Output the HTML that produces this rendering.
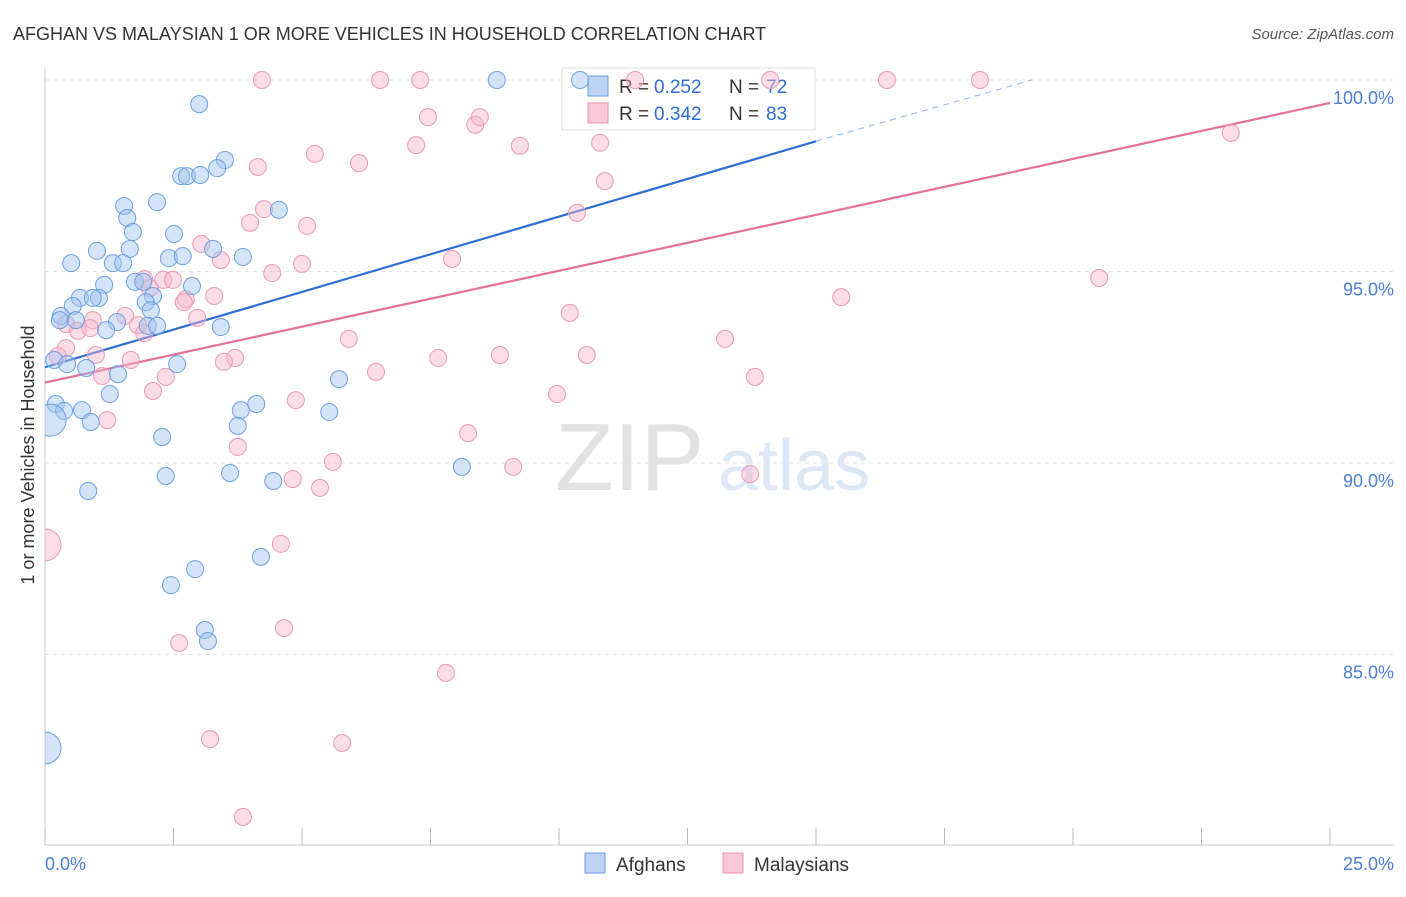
<!DOCTYPE html>
<html><head><meta charset="utf-8"><style>
body{margin:0;background:#fff;font-family:"Liberation Sans",sans-serif;}
svg text{font-family:"Liberation Sans",sans-serif;}
</style></head><body>
<svg id="chart" width="1406" height="892">
<defs><clipPath id="plotclip"><rect x="45" y="60" width="1360" height="785"/></clipPath></defs>
<text x="13" y="40" font-size="18" fill="#333">AFGHAN VS MALAYSIAN 1 OR MORE VEHICLES IN HOUSEHOLD CORRELATION CHART</text>
<text x="1394" y="39" font-size="15" fill="#555" text-anchor="end" font-style="italic">Source: ZipAtlas.com</text>
<text x="555" y="490" font-size="96" fill="#e2e2e2" font-family="Liberation Serif">ZIP</text>
<text x="718" y="490" font-size="72" fill="#dce8f6">atlas</text>
<g id="grid"></g><g id="axes"></g>
<g>
<rect x="562" y="68" width="253" height="62" fill="#fff" stroke="#ddd"/>
<rect x="588" y="76" width="20" height="20" fill="#bcd3f3" stroke="#6a9de0"/>
<text x="619" y="93" font-size="19" fill="#333">R =</text>
<text x="654" y="93" font-size="19" fill="#2d6fd6">0.252</text>
<text x="729" y="93" font-size="19" fill="#333">N =</text>
<text x="766" y="93" font-size="19" fill="#2d6fd6">72</text>
<rect x="588" y="103" width="20" height="20" fill="#f8c8d8" stroke="#e895b0"/>
<text x="619" y="120" font-size="19" fill="#333">R =</text>
<text x="654" y="120" font-size="19" fill="#2d6fd6">0.342</text>
<text x="729" y="120" font-size="19" fill="#333">N =</text>
<text x="766" y="120" font-size="19" fill="#2d6fd6">83</text>
</g>
<g id="trends"></g><g id="pts" clip-path="url(#plotclip)"></g>
<text transform="translate(34,455) rotate(-90)" font-size="18" fill="#333" text-anchor="middle">1 or more Vehicles in Household</text>
<text x="45" y="870" font-size="18" fill="#4a7fd4">0.0%</text>
<text x="1394" y="870" font-size="18" fill="#4a7fd4" text-anchor="end">25.0%</text>
<g>
<rect x="585" y="853" width="20" height="20" fill="#bcd3f3" stroke="#6a9de0"/>
<text x="616" y="871" font-size="19" fill="#333">Afghans</text>
<rect x="723" y="853" width="20" height="20" fill="#f8c8d8" stroke="#e895b0"/>
<text x="754" y="871" font-size="19" fill="#333">Malaysians</text>
</g>
</svg>
<script>
const yTicks=[100,95,90,85];
const yTickLabels=["100.0%","95.0%","90.0%","85.0%"];
const xTicks=[0,2.5,5,7.5,10,12.5,15,17.5,20,22.5,25];
const afghanX=[3.00,8.79,10.41,3.50,3.35,2.65,2.76,3.02,1.54,2.18,1.60,4.55,1.71,2.51,1.01,1.65,3.27,3.85,0.51,1.32,1.52,2.41,2.68,1.75,1.91,1.15,2.86,0.68,1.05,0.93,2.10,1.96,0.54,2.06,0.31,0.29,0.60,1.40,2.00,2.18,1.19,3.42,0.18,0.43,2.57,0.80,1.42,5.72,1.26,0.21,0.72,0.37,4.11,3.81,5.53,0.89,3.75,0.10,2.28,8.11,2.35,3.60,4.44,0.84,4.20,2.92,2.45,3.11,3.17,0];
const afghanY=[99.37,100,100,97.91,97.70,97.49,97.49,97.52,96.71,96.81,96.40,96.61,96.03,95.98,95.54,95.59,95.59,95.38,95.22,95.22,95.22,95.35,95.40,94.73,94.73,94.65,94.62,94.31,94.31,94.31,94.36,94.20,94.10,93.99,93.84,93.73,93.73,93.68,93.58,93.58,93.47,93.55,92.69,92.58,92.58,92.48,92.32,92.19,91.80,91.54,91.38,91.36,91.54,91.38,91.33,91.07,90.97,91.12,90.68,89.90,89.66,89.74,89.53,89.27,87.55,87.23,86.81,85.64,85.35,82.56];
const afghanBig=[57,69];
const malayX=[4.22,6.52,7.30,11.48,16.38,18.19,14.11,7.45,8.37,8.46,7.22,9.24,10.80,23.07,5.25,6.11,4.14,10.89,10.35,4.26,3.99,5.10,3.04,3.42,7.92,4.42,5.00,1.93,2.30,2.49,2.04,3.29,2.74,2.70,15.49,20.51,1.56,10.21,0.93,0.41,0.64,0.88,1.81,2.96,1.93,5.91,13.23,0.41,0.99,1.67,3.70,3.48,8.85,10.54,7.65,6.44,13.81,2.35,1.11,0.25,2.10,9.96,4.88,1.21,8.23,3.75,5.60,9.11,13.72,4.82,5.35,4.59,4.65,2.61,7.80,3.21,5.78,3.85,0];
const malayY=[100,100,100,100,100,100,100,99.03,98.83,99.03,98.30,98.28,98.36,98.62,98.07,97.83,97.73,97.36,96.53,96.63,96.27,96.19,95.72,95.30,95.33,94.96,95.20,94.80,94.78,94.78,94.57,94.36,94.28,94.20,94.33,94.83,93.84,93.92,93.73,93.63,93.45,93.52,93.60,93.79,93.39,93.24,93.24,93.00,92.82,92.69,92.74,92.64,92.82,92.82,92.74,92.38,92.25,92.25,92.27,92.79,91.88,91.80,91.64,91.12,90.78,90.42,90.03,89.90,89.71,89.58,89.35,87.89,85.69,85.30,84.52,82.79,82.69,80.76,87.86];
const malayBig=[78];
const afghanTrend=[[0,92.5],[15,98.4]];
const afghanTrendExt=[[15,98.4],[19.2,100]];
const malayTrend=[[0,92.1],[25,99.4]];

const NS="http://www.w3.org/2000/svg";
const X=v=>45+v*51.4, Y=v=>80+(100-v)*38.3;
function mk(tag,attrs,parent){const e=document.createElementNS(NS,tag);for(const k in attrs)e.setAttribute(k,attrs[k]);document.getElementById(parent).appendChild(e);return e;}
yTicks.forEach((t,i)=>{
 const l=mk('line',{x1:45,x2:1394,y1:Y(t),y2:Y(t),stroke:'#e3e3e3','stroke-dasharray':'4,4'},'grid');
 
 
 const tx=mk('text',{x:1394,y:Y(t)+24,'font-size':18,fill:'#4a7fd4','text-anchor':'end'},'grid');
 tx.textContent=yTickLabels[i];
 
 
});
const ya=mk('line',{x1:45,x2:45,y1:68,y2:845,stroke:'#ccc'},'axes');


const xa=mk('line',{x1:45,x2:1394,y1:845,y2:845,stroke:'#ccc'},'axes');


xTicks.forEach(t=>{
 const l=mk('line',{x1:X(t),x2:X(t),y1:828,y2:845,stroke:'#bbb'},'axes');
 
 
});
function line(p,stroke,dash,name){
 const l=mk('line',{x1:X(p[0][0]),y1:Y(p[0][1]),x2:X(p[1][0]),y2:Y(p[1][1]),stroke:stroke,'stroke-width':dash?1:2.2},'trends');
 if(dash)l.setAttribute('stroke-dasharray','6,5');
 
 
}
function pts(xs,ys,big,fill,stroke,name){
 xs.forEach((x,i)=>{
  const c=mk('circle',{cx:X(x),cy:Y(ys[i]),r:big.includes(i)?16:8.5,fill:fill,stroke:stroke,'stroke-width':1},'pts');
  
  
 });
}
pts(malayX,malayY,malayBig,'rgba(246,180,202,0.45)','#e99ab5','malaysian-point');
pts(afghanX,afghanY,afghanBig,'rgba(160,195,240,0.45)','#6d9fe0','afghan-point');
line(afghanTrend,'#2d6fd6',false,'afghan-trend-line');
line(afghanTrendExt,'#8fb2e6',true,'afghan-trend-extension');
line(malayTrend,'#e4709a',false,'malaysian-trend-line');
</script>
</body></html>
